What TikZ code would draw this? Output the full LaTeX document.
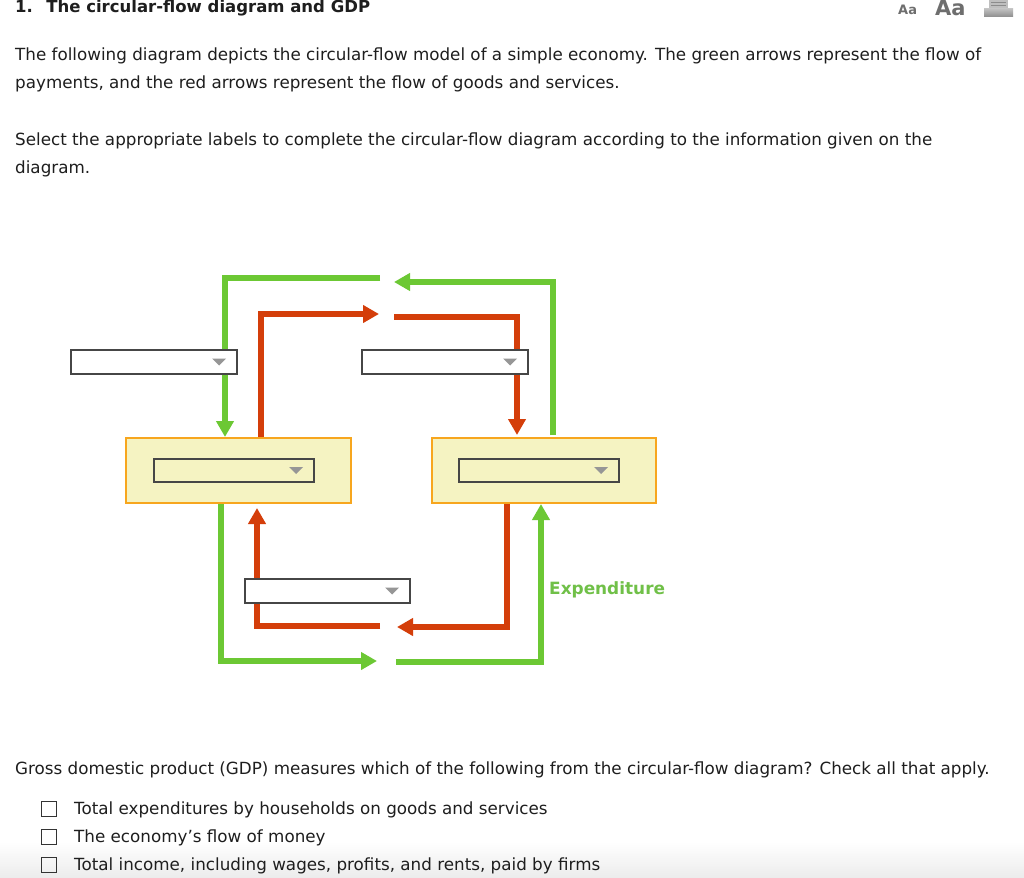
\documentclass[tikz,border=0pt]{standalone}
\usepackage{fontspec}
\setmainfont{DejaVu Sans}
\usetikzlibrary{arrows.meta,calc}
\definecolor{flowgreen}{RGB}{108,200,52}
\definecolor{flowred}{RGB}{212,62,10}
\definecolor{boxfill}{RGB}{245,243,194}
\definecolor{boxedge}{RGB}{247,166,30}
\definecolor{ddedge}{RGB}{70,70,70}
\definecolor{ddtri}{RGB}{150,150,150}
\definecolor{labgreen}{RGB}{112,192,72}
\definecolor{icongray}{RGB}{110,110,110}
\definecolor{bodytext}{RGB}{30,30,30}
\newcommand{\ddtri}[1]{\fill[ddtri] ($(#1.east)+(-25,-3.5)$) -- ++(14,0) -- ++(-7,7) -- cycle;}
\begin{document}
\begin{tikzpicture}[x=1pt,y=-1pt,
  txt/.style={inner sep=0pt, anchor=base west, font=\fontsize{16.75}{20}\selectfont, text=bodytext},
  flow/.style={line width=5.5pt, line cap=butt, line join=miter, -{Triangle[width=17pt,length=16pt]}},
  gflow/.style={flow, draw=flowgreen},
  rflow/.style={flow, draw=flowred},
  dd/.style={draw=ddedge, line width=1.3pt, fill=white, minimum width=166pt, minimum height=24pt, inner sep=0pt, outer sep=0pt},
  ddin/.style={dd, fill=none, minimum width=160pt, minimum height=23pt},
  sector/.style={draw=boxedge, line width=1.5pt, fill=boxfill, minimum width=225pt, minimum height=65pt, inner sep=0pt, outer sep=0pt},
  cbox/.style={draw=black!80, line width=1.5pt, minimum width=15pt, minimum height=15pt, inner sep=0pt},
]
\useasboundingbox (0,0) rectangle (1024,877);
\fill[white] (0,0) rectangle (1024,877);
\shade[top color=white, bottom color={rgb,255:red,236;green,236;blue,236}] (0,842) rectangle (1024,877);

% header
\node[txt, font=\bfseries\fontsize{16.5}{20}\selectfont] (title) at (15,13) {1.~ The circular-flow diagram and GDP};
\node[inner sep=0pt, anchor=base west, font=\bfseries\fontsize{13}{15}\selectfont, text=icongray] (aa1) at (898,15) {Aa};
\node[inner sep=0pt, anchor=base west, font=\bfseries\fontsize{21}{24}\selectfont, text=icongray] (aa2) at (935,16) {Aa};
\fill[black!25] (989,-2) rectangle (1008,9);
\draw[black!45, line width=0.8pt] (991,2) -- (1006,2) (991,5) -- (1006,5);
\shade[top color=black!25, bottom color=black!45] (984,9) rectangle (1013,17);

\node[txt] (p1) at (15,61) {The following diagram depicts the circular-flow model of a simple economy. The green arrows represent the flow of};
\node[txt] (p2) at (15,89) {payments, and the red arrows represent the flow of goods and services.};
\node[txt] (p3) at (15,146) {Select the appropriate labels to complete the circular-flow diagram according to the information given on the};
\node[txt] (p4) at (15,174) {diagram.};

% sectors
\node[sector, minimum width=225pt] (hh) at (238.5,470.5) {};
\node[sector, minimum width=224pt] (ff) at (544,470.5) {};

% flows
\coordinate (gtopL) at (380,278);
\coordinate (gtopR) at (394,282);
\coordinate (rtopL) at (379,314);
\coordinate (rtopR) at (394,317);
\coordinate (rbotL) at (380,626);
\coordinate (rbotR) at (397,627);
\coordinate (gbotL) at (377,661);
\coordinate (gbotR) at (396,662);

\draw[gflow] (gtopL) -- (225,278) -- (225,437);
\draw[gflow] (553,435) -- (553,282) -- (gtopR);
\draw[rflow] (261,437) -- (261,314) -- (rtopL);
\draw[rflow] (rtopR) -- (517,317) -- (517,435);

\draw[gflow] (221,504) -- (221,661) -- (gbotL);
\draw[gflow] (gbotR) -- (541,662) -- (541,504);
\draw[rflow] (rbotL) -- (257,626) -- (257,508);
\draw[rflow] (507,504) -- (507,627) -- (rbotR);

% dropdowns
\node[dd] (d1) at (154,362) {};
\node[dd] (d2) at (445,362) {};
\node[dd, minimum width=165pt] (d3) at (327.5,591) {};
\node[ddin] (dhh) at (234,470.5) {};
\node[ddin] (dff) at (539,470.5) {};
\ddtri{d1}\ddtri{d2}\ddtri{d3}\ddtri{dhh}\ddtri{dff}

\node[inner sep=0pt, anchor=base west, font=\bfseries\fontsize{16.9}{20}\selectfont, text=labgreen] (exp) at (549,594) {Expenditure};

% question
\node[txt] (q) at (15,774) {Gross domestic product (GDP) measures which of the following from the circular-flow diagram? Check all that apply.};
\node[cbox] (c1) at (49,809) {};
\node[cbox] (c2) at (49,837) {};
\node[cbox] (c3) at (49,865) {};
\node[txt] (a1) at (74,814) {Total expenditures by households on goods and services};
\node[txt] (a2) at (74,842) {The economy’s flow of money};
\node[txt] (a3) at (74,870) {Total income, including wages, profits, and rents, paid by firms};
\end{tikzpicture}
\end{document}
